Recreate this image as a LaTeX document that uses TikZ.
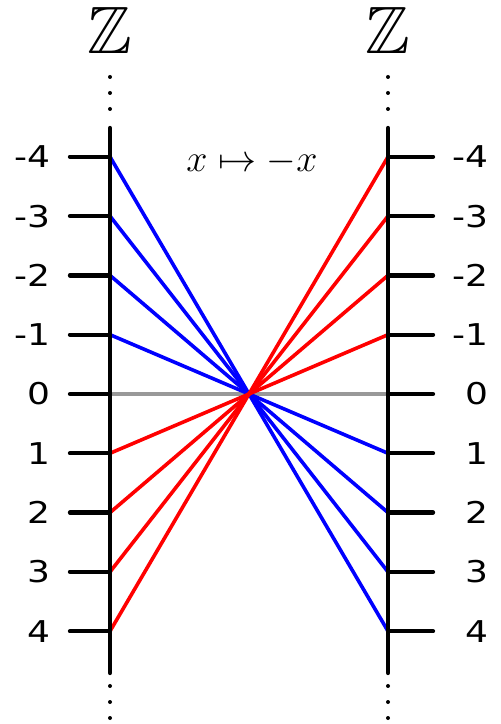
\documentclass[tikz,border=0pt]{standalone}
\usepackage{fix-cm}
\usepackage{amssymb}
\usepackage{fontspec}
\newfontfamily\labelfont[FakeStretch=1.2]{DejaVu Sans}
\definecolor{zerogray}{RGB}{153,153,153}
\tikzset{
  axis/.style={line width=4.3pt,line cap=round},
  map/.style={line width=3.6pt},
  num/.style={inner sep=0pt,anchor=east,font=\labelfont\fontsize{30}{36}\selectfont},
  setname/.style={inner sep=0pt,font=\fontsize{67}{80}\selectfont}
}
\begin{document}
\begin{tikzpicture}[x=59.3pt,y=-59.3pt]
  \useasboundingbox (-4.199,-6.644) rectangle (4.233,5.565);
  \foreach \n in {-4,...,4}{
    \coordinate (l\n) at (-2.344,\n);
    \coordinate (r\n) at (2.344,\n);
  }
  \draw
    (-2.344,-4.486) coordinate (ltop)
    (-2.344,4.705) coordinate (lbot)
    (2.344,-4.486) coordinate (rtop)
    (2.344,4.705) coordinate (rbot)
    (-2.344,-6.138) node[setname] (zl){$\mathbb{Z}$}
    (2.344,-6.138) node[setname] (zr){$\mathbb{Z}$}
    (0.05,-3.744) node[anchor=base,inner sep=0pt,font=\fontsize{38}{46}\selectfont] (map){$x \mapsto -x$};
  % lines through the origin
  \draw[map,zerogray] (l0) to (r0);
  \begin{scope}[map,blue]
    \draw (l-4) to (r4);
    \draw (l-3) to (r3);
    \draw (l-2) to (r2);
    \draw (l-1) to (r1);
  \end{scope}
  \begin{scope}[map,red]
    \draw (l1) to (r-1);
    \draw (l2) to (r-2);
    \draw (l3) to (r-3);
    \draw (l4) to (r-4);
  \end{scope}
  % the two copies of Z
  \draw[axis] (ltop) to (lbot);
  \draw[axis] (rtop) to (rbot);
  \foreach \n in {-4,...,4}{
    \draw[axis] (l\n) to (-3.019,\n) coordinate (tl\n);
    \draw[axis] (r\n) to (3.103,\n) coordinate (tr\n);
    \node[num] (nl\n) at (-3.339,\n) {\n};
    \node[num] (nr\n) at (4.047,\n) {\n};
  }
  \foreach \y in {-5.346,-5.076,-4.806,4.924,5.194,5.464}{
    \fill (-2.344,\y) circle (2pt);
    \fill (2.344,\y) circle (2pt);
  }
\end{tikzpicture}
\end{document}
